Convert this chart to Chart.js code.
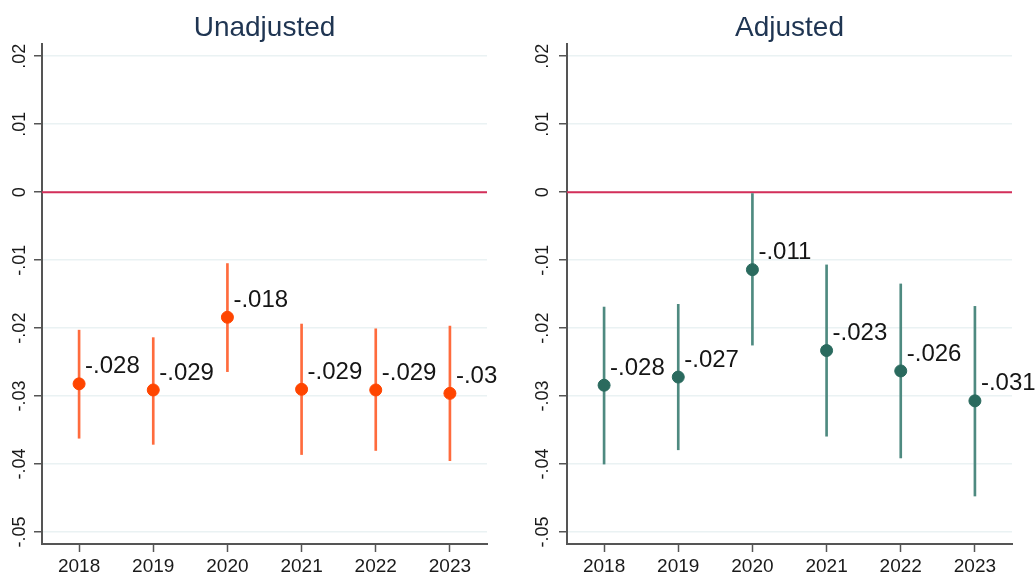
<!DOCTYPE html>
<html>
<head>
<meta charset="utf-8">
<script src="https://cdn.jsdelivr.net/npm/chart.js@4.4.1/dist/chart.umd.min.js"></script>
<style>
  html, body { margin: 0; padding: 0; background: #ffffff; }
  #wrap { position: relative; width: 1036px; height: 573px; overflow: hidden; }
  .pane { position: absolute; top: 0; width: 518px; height: 573px; }
</style>
</head>
<body>
<div id="wrap">
  <div class="pane" style="left:0"><canvas id="c1" width="518" height="573"></canvas></div>
  <div class="pane" style="left:518px"><canvas id="c2" width="518" height="573"></canvas></div>
</div>
<script>
// ---- data ----
const years = [2018, 2019, 2020, 2021, 2022, 2023];
const yearLabels = ['2018', '2019', '2020', '2021', '2022', '2023'];

const unadjEst = [-0.0282, -0.0291, -0.0184, -0.0290, -0.0291, -0.0296];
const unadjLo  = [-0.0362, -0.0371, -0.0264, -0.0386, -0.0380, -0.0395];
const unadjHi  = [-0.0203, -0.0214, -0.0105, -0.0194, -0.0201, -0.0197];
const unadjLabels = ['-.028', '-.029', '-.018', '-.029', '-.029', '-.03'];

const adjEst = [-0.0284, -0.0272, -0.0114, -0.0233, -0.0263, -0.0307];
const adjLo  = [-0.0400, -0.0379, -0.0225, -0.0359, -0.0391, -0.0447];
const adjHi  = [-0.0169, -0.0165, -0.0002, -0.0107, -0.0135, -0.0168];
const adjLabels = ['-.028', '-.027', '-.011', '-.023', '-.026', '-.031'];

const yTicks = [-0.05, -0.04, -0.03, -0.02, -0.01, 0, 0.01, 0.02];
const yTickLabels = ['-.05', '-.04', '-.03', '-.02', '-.01', '0', '.01', '.02'];

const FONT = '"Liberation Sans", Arial, sans-serif';

function makePanel(canvasId, cfg) {
  const ctx = document.getElementById(canvasId);
  const overlay = {
    id: 'overlay_' + canvasId,
    beforeDatasetsDraw(chart) {
      const c = chart.ctx, y = chart.scales.y, area = chart.chartArea;
      const y0 = y.getPixelForValue(0);
      c.save();
      c.strokeStyle = '#D42F5A';
      c.lineWidth = 2;
      c.beginPath();
      c.moveTo(area.left, y0);
      c.lineTo(area.right, y0);
      c.stroke();
      c.restore();
    },
    afterDraw(chart) {
      const c = chart.ctx, y = chart.scales.y, area = chart.chartArea;
      c.save();
      // title
      c.fillStyle = '#1F3552';
      c.font = '28px ' + FONT;
      c.textAlign = 'center';
      c.textBaseline = 'middle';
      c.fillText(cfg.title, (area.left + area.right) / 2, 28);
      // rotated y tick labels
      c.fillStyle = '#1a1a1a';
      c.font = '18px ' + FONT;
      yTicks.forEach((v, i) => {
        const py = y.getPixelForValue(v);
        c.save();
        c.translate(cfg.yLabelX, py);
        c.rotate(-Math.PI / 2);
        c.textAlign = 'center';
        c.textBaseline = 'middle';
        c.fillText(yTickLabels[i], 0, 0);
        c.restore();
      });
      // value labels
      const meta = chart.getDatasetMeta(1);
      c.fillStyle = '#151515';
      c.font = '24px ' + FONT;
      c.textAlign = 'left';
      c.textBaseline = 'middle';
      meta.data.forEach((pt, i) => {
        c.fillText(cfg.labels[i], pt.x + 6, pt.y - 17);
      });
      c.restore();
    }
  };

  return new Chart(ctx, {
    type: 'scatter',
    data: {
      datasets: [
        {
          type: 'bar',
          data: years.map((yr, i) => ({ x: yr, y: [cfg.lo[i], cfg.hi[i]] })),
          backgroundColor: cfg.barColor,
          borderWidth: 0,
          barThickness: 2,
          order: 2
        },
        {
          type: 'scatter',
          data: years.map((yr, i) => ({ x: yr, y: cfg.est[i] })),
          backgroundColor: cfg.ptColor,
          borderColor: cfg.ptColor,
          pointRadius: 6,
          pointHoverRadius: 6,
          showLine: false,
          order: 1
        }
      ]
    },
    options: {
      responsive: false,
      animation: false,
      events: [],
      layout: { padding: { top: 44, right: cfg.padRight, left: 0, bottom: 0 } },
      plugins: { legend: { display: false }, tooltip: { enabled: false }, title: { display: false } },
      scales: {
        x: {
          type: 'linear',
          offset: false,
          min: 2017.5,
          max: 2023.5,
          afterBuildTicks(s) { s.ticks = years.map(v => ({ value: v })); },
          afterFit(s) { s.height = 29; },
          ticks: {
            padding: 3,
            color: '#1a1a1a',
            font: { family: FONT, size: 19 },
            callback(v) { const i = years.indexOf(v); return i >= 0 ? yearLabels[i] : ''; },
            maxRotation: 0, minRotation: 0
          },
          grid: { display: true, offset: false, drawOnChartArea: false, drawTicks: true, tickLength: 8, tickColor: '#555555', tickWidth: 1.5 },
          border: { display: true, color: '#555555', width: 2 }
        },
        y: {
          type: 'linear',
          min: -0.05176,
          max: 0.0218,
          afterBuildTicks(s) { s.ticks = yTicks.map(v => ({ value: v })); },
          afterFit(s) { s.width = cfg.yWidth; },
          ticks: { display: false },
          grid: { display: true, color: '#EAF2F3', lineWidth: 1.5, drawTicks: true, tickLength: 8, tickColor: '#555555', tickWidth: 1.5 },
          border: { display: true, color: '#555555', width: 2 }
        }
      }
    },
    plugins: [overlay]
  });
}

makePanel('c1', {
  title: 'Unadjusted', est: unadjEst, lo: unadjLo, hi: unadjHi, labels: unadjLabels,
  ptColor: '#FF4500', barColor: '#FF6B3D', yWidth: 42, padRight: 31, yLabelX: 20
});
makePanel('c2', {
  title: 'Adjusted', est: adjEst, lo: adjLo, hi: adjHi, labels: adjLabels,
  ptColor: '#2A6A5E', barColor: '#4E8A80', yWidth: 49, padRight: 24, yLabelX: 25
});
</script>
</body>
</html>
